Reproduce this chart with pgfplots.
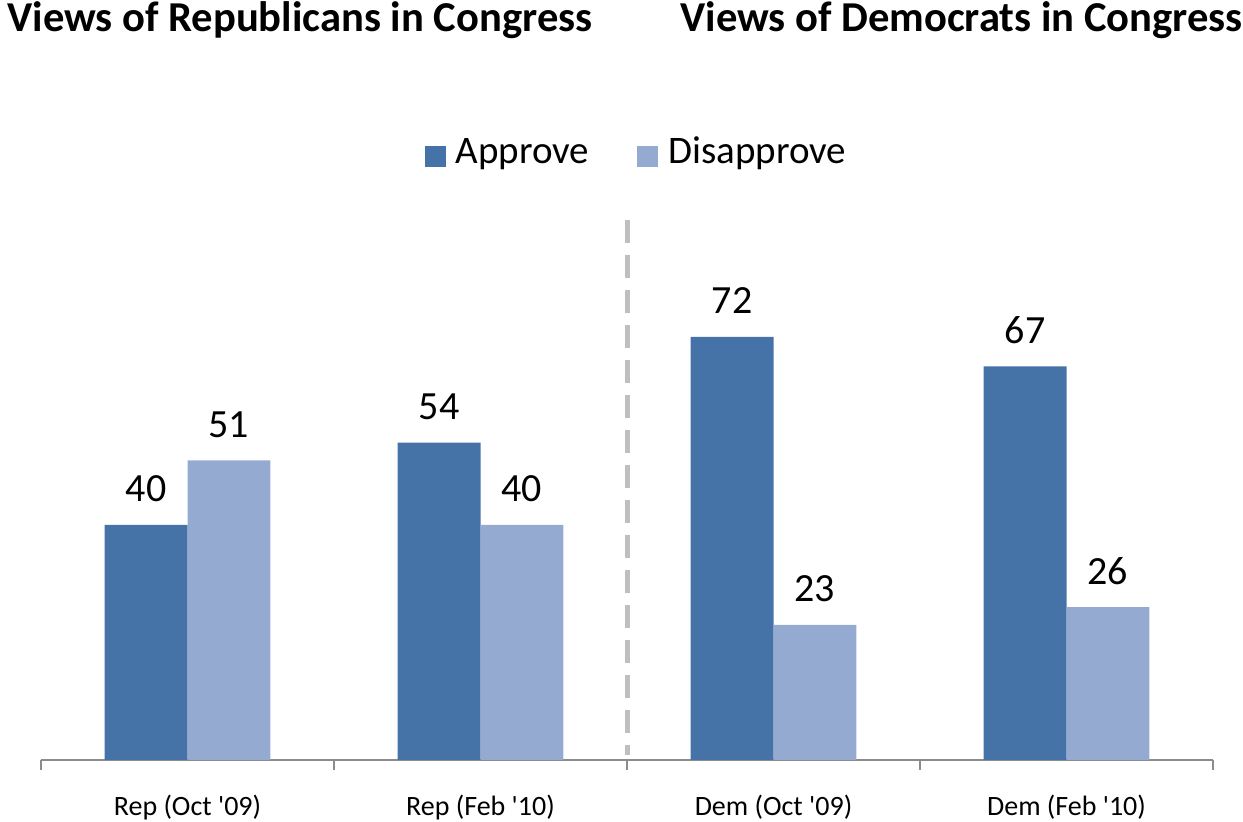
\documentclass[border=0pt]{standalone}
\usepackage{pgfplots}
\pgfplotsset{compat=1.18}
\usepackage{fontspec}
\setmainfont{Carlito}
\definecolor{appr}{RGB}{70,115,167}
\definecolor{disa}{RGB}{149,170,209}
\begin{document}
\begin{tikzpicture}
\useasboundingbox (0,0) rectangle (621.5pt,411pt);
\node[anchor=base west, inner sep=0pt, font=\fontsize{21.3}{25}\selectfont\bfseries] at (3.5pt,395pt) {Views of Republicans in Congress};
\node[anchor=base west, inner sep=0pt, font=\fontsize{21.3}{25}\selectfont\bfseries] at (340pt,395pt) {Views of Democrats in Congress};
\begin{axis}[
  at={(20.5pt,31pt)}, anchor=south west,
  scale only axis, width=586pt, height=280pt,
  xmin=-0.5, xmax=3.5, ymin=0, ymax=95.32,
  axis x line*=bottom, hide y axis,
  axis line style={draw=black!45, line width=0.8pt},
  xtick={0,1,2,3},
  xticklabels={Rep (Oct \textquotesingle09),Rep (Feb \textquotesingle10),Dem (Oct \textquotesingle09),Dem (Feb \textquotesingle10)},
  major tick length=0pt,
  minor xtick={-0.5,0.5,1.5,2.5,3.5},
  minor tick length=5pt,
  tick align=outside,
  minor tick style={draw=black!45, line width=0.8pt},
  xticklabel style={font=\fontsize{14}{17}\selectfont, anchor=base, yshift=-28pt},
  ybar, bar width=0.283,
  clip=false,
  /pgf/number format/assume math mode=true,
  nodes near coords,
  every node near coord/.append style={font=\fontsize{20}{24}\selectfont, anchor=base, yshift=11.5pt, inner sep=0pt},
  legend columns=2,
  legend style={draw=none, at={(0.509,1.0857)}, anchor=center,
    font=\fontsize{19.5}{23}\selectfont,
    /tikz/every even column/.append style={column sep=22pt}},
  legend image code/.code={\fill[#1] (0pt,-7.5pt) rectangle (10.5pt,3pt); \path (13.5pt,0pt);},
]
\addplot[fill=appr, draw=none, bar shift=-0.1415] coordinates {(0,40) (1,54) (2,72) (3,67)};
\addplot[fill=disa, draw=none, bar shift=0.1415] coordinates {(0,51) (1,40) (2,23) (3,26)};
\legend{Approve,Disapprove}
\draw[gray!50, line width=2.5pt, dash pattern=on 11.5pt off 6pt] (axis cs:1.5,91.9) -- (axis cs:1.5,0.9);
\end{axis}
\end{tikzpicture}
\end{document}
